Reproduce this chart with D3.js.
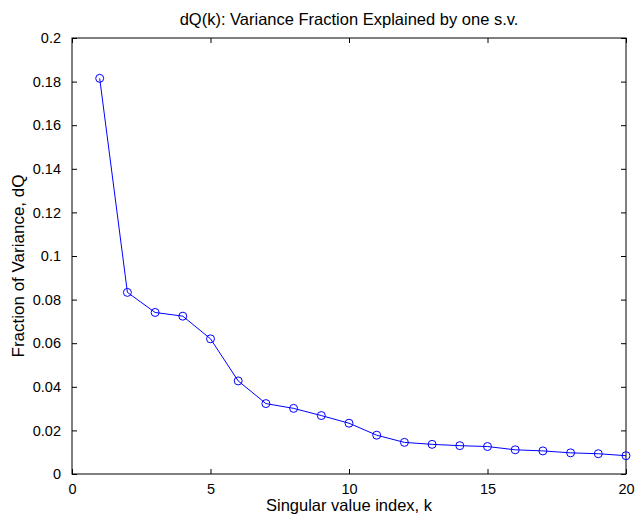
<!DOCTYPE html>
<html><head><meta charset="utf-8">
<script src="https://cdn.jsdelivr.net/npm/d3@7"></script>
<style>body{margin:0;background:#fff}svg{display:block}text{font-family:"Liberation Sans",Arial,sans-serif;fill:#000}</style>
</head><body><svg id="c" width="635" height="517"></svg>
<script>
const kValues = [1,2,3,4,5,6,7,8,9,10,11,12,13,14,15,16,17,18,19,20];
const dQ = [0.1815,0.0833,0.0741,0.0724,0.0620,0.0427,0.0323,0.0301,0.0268,0.0233,0.0178,0.0145,0.0136,0.0130,0.0126,0.0111,0.0106,0.0097,0.0093,0.0084];
const xTicks = [0,5,10,15,20];
const yTicks = [0,0.02,0.04,0.06,0.08,0.1,0.12,0.14,0.16,0.18,0.2];
const titleText = "dQ(k): Variance Fraction Explained by one s.v.";
const xLabel = "Singular value index, k";
const yLabel = "Fraction of Variance, dQ";

const L=72,R=626,T=38,B=474;
const svg=d3.select("#c");
const x=d3.scaleLinear().domain([0,20]).range([L,R]);
const y=d3.scaleLinear().domain([0,0.2]).range([B,T]);
const fmt=d=>String(+d.toFixed(2));
const fs=14.5, lfs=16.5, tl=5;

svg.append("g").attr("transform",`translate(0,${B})`)
  .call(d3.axisBottom(x).tickValues(xTicks).tickFormat(fmt).tickSizeInner(-tl).tickSizeOuter(0).tickPadding(10));
svg.append("g").attr("transform",`translate(0,${T})`)
  .call(d3.axisTop(x).tickValues(xTicks).tickFormat("").tickSizeInner(-tl).tickSizeOuter(0));
svg.append("g").attr("transform",`translate(${L},0)`)
  .call(d3.axisLeft(y).tickValues(yTicks).tickFormat(fmt).tickSizeInner(-tl).tickSizeOuter(0).tickPadding(11));
svg.append("g").attr("transform",`translate(${R},0)`)
  .call(d3.axisRight(y).tickValues(yTicks).tickFormat("").tickSizeInner(-tl).tickSizeOuter(0));
svg.selectAll(".domain").remove();
svg.selectAll(".tick line").attr("stroke","#000").attr("stroke-width",1);
svg.selectAll(".tick text").attr("font-size",fs).attr("font-family","Liberation Sans, Arial, sans-serif").attr("fill","#000");

svg.append("rect").attr("x",L).attr("y",T).attr("width",R-L).attr("height",B-T)
  .attr("fill","none").attr("stroke","#000").attr("stroke-width",1);

const pts=kValues.map((k,i)=>[k,dQ[i]]);
svg.append("path").datum(pts).attr("fill","none").attr("stroke","#0000ff").attr("stroke-width",1)
  .attr("d",d3.line().x(d=>x(d[0])).y(d=>y(d[1])));
svg.selectAll("circle.m").data(pts).join("circle").attr("class","m")
  .attr("cx",d=>x(d[0])).attr("cy",d=>y(d[1])).attr("r",4)
  .attr("fill","none").attr("stroke","#0000ff").attr("stroke-width",1);

svg.append("text").attr("x",(L+R)/2).attr("y",25).attr("text-anchor","middle").attr("font-size",lfs).text(titleText);
svg.append("text").attr("x",(L+R)/2).attr("y",511).attr("text-anchor","middle").attr("font-size",lfs).text(xLabel);
svg.append("text").attr("transform",`translate(24,${(T+B)/2+10}) rotate(-90)`).attr("text-anchor","middle").attr("font-size",17).text(yLabel);
</script></body></html>
